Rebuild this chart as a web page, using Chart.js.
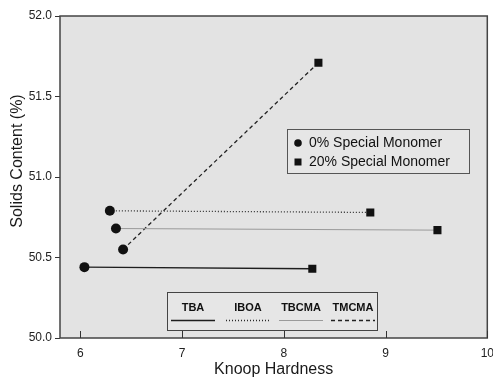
<!DOCTYPE html>
<html>
<head>
<meta charset="utf-8">
<script src="https://cdn.jsdelivr.net/npm/chart.js@4"></script>
<style>
  html, body { margin: 0; padding: 0; background: #ffffff; }
  #wrap { width: 493px; height: 378px; }
</style>
</head>
<body>
<div id="wrap"><canvas id="chart" width="493" height="378"></canvas></div>
<script>
Chart.defaults.font.family = '"Liberation Sans", Arial, sans-serif';

var monomers   = ['TBA', 'IBOA', 'TBCMA', 'TMCMA'];
var hardness0  = [6.04, 6.29, 6.35, 6.42];
var solids0    = [50.44, 50.79, 50.68, 50.55];
var hardness20 = [8.28, 8.85, 9.51, 8.34];
var solids20   = [50.43, 50.78, 50.67, 51.71];
var xTicks     = [6, 7, 8, 9, 10];
var groupNames = ['0% Special Monomer', '20% Special Monomer'];
var xTitle     = 'Knoop Hardness';
var yTitle     = 'Solids Content (%)';

var lineStyles = {
    TBA:   { color: '#1e1e1e', width: 1.3, dash: [] },
    IBOA:  { color: '#2a2a2a', width: 1.3, dash: [1, 2] },
    TBCMA: { color: '#9a9a9a', width: 1.0, dash: [] },
    TMCMA: { color: '#222222', width: 1.3, dash: [4, 3] }
};

var datasets = monomers.map(function (m, i) {
    var s = lineStyles[m];
    return {
        label: m,
        data: [
            { x: hardness0[i],  y: solids0[i] },
            { x: hardness20[i], y: solids20[i] }
        ],
        showLine: true,
        borderColor: s.color,
        borderWidth: s.width,
        borderDash: s.dash,
        pointStyle: ['circle', 'rect'],
        pointRadius: [5, 5.7],
        pointBackgroundColor: '#111111',
        pointBorderColor: '#111111',
        pointBorderWidth: 0,
        tension: 0
    };
});

// grey plot panel, frame, inward x ticks, titles and the two legend boxes
var panelPlugin = {
    id: 'panel',
    beforeDatasetsDraw: function (chart) {
        var ctx = chart.ctx, a = chart.chartArea;
        ctx.save();
        ctx.fillStyle = '#e3e3e3';
        ctx.fillRect(a.left, a.top, a.right - a.left, a.bottom - a.top);
        ctx.strokeStyle = '#444444';
        ctx.lineWidth = 1.5;
        ctx.strokeRect(a.left, a.top, a.right - a.left, a.bottom - a.top);
        var xs = chart.scales.x;
        ctx.lineWidth = 1;
        ctx.strokeStyle = '#333333';
        xTicks.forEach(function (t) {
            var px = Math.round(xs.getPixelForValue(t)) + 0.5;
            ctx.beginPath();
            ctx.moveTo(px, a.bottom);
            ctx.lineTo(px, a.bottom - 7);
            ctx.stroke();
        });

        // axis titles
        ctx.fillStyle = '#1a1a1a';
        ctx.font = '16px "Liberation Sans", Arial, sans-serif';
        ctx.textAlign = 'center';
        ctx.textBaseline = 'alphabetic';
        ctx.fillText(xTitle, (a.left + a.right) / 2, 374);
        ctx.save();
        ctx.translate(22, 161);
        ctx.rotate(-Math.PI / 2);
        ctx.fillText(yTitle, 0, 0);
        ctx.restore();
        ctx.restore();
    },
    afterDatasetsDraw: function (chart) {
        var ctx = chart.ctx;
        ctx.save();
        // marker legend
        ctx.fillStyle = '#e6e6e6';
        ctx.fillRect(287, 129, 182, 44);
        ctx.strokeStyle = '#555555';
        ctx.lineWidth = 1;
        ctx.strokeRect(287.5, 129.5, 182, 44);
        ctx.fillStyle = '#111111';
        ctx.beginPath();
        ctx.arc(298, 143, 3.8, 0, Math.PI * 2);
        ctx.fill();
        ctx.fillRect(294.5, 158.5, 7, 7);
        ctx.font = '14px "Liberation Sans", Arial, sans-serif';
        ctx.textBaseline = 'middle';
        ctx.textAlign = 'left';
        ctx.fillText(groupNames[0], 309, 143);
        ctx.fillText(groupNames[1], 309, 162);

        // line-style legend
        ctx.fillStyle = '#e6e6e6';
        ctx.fillRect(167, 292, 210, 38);
        ctx.strokeStyle = '#444444';
        ctx.strokeRect(167.5, 292.5, 210, 38);
        var cx = [193, 248, 301, 353];
        var half = 22;
        ctx.font = 'bold 11px "Liberation Sans Narrow", "Liberation Sans", Arial, sans-serif';
        ctx.textAlign = 'center';
        monomers.forEach(function (m, i) {
            var s = lineStyles[m];
            ctx.fillStyle = '#111111';
            ctx.fillText(m, cx[i], 308);
            ctx.strokeStyle = s.color;
            ctx.lineWidth = s.width;
            ctx.setLineDash(s.dash);
            ctx.beginPath();
            ctx.moveTo(cx[i] - half, 320.5);
            ctx.lineTo(cx[i] + half, 320.5);
            ctx.stroke();
        });
        ctx.setLineDash([]);
        ctx.restore();
    }
};

new Chart(document.getElementById('chart'), {
    type: 'scatter',
    data: { datasets: datasets },
    options: {
        responsive: false,
        animation: false,
        layout: { padding: { top: 16, right: 5, left: 0, bottom: 0 } },
        plugins: {
            legend:  { display: false },
            tooltip: { enabled: false }
        },
        scales: {
            x: {
                type: 'linear',
                min: 5.8,
                max: 10,
                afterBuildTicks: function (axis) {
                    axis.ticks = xTicks.map(function (v) { return { value: v }; });
                },
                afterFit: function (axis) {
                    axis.height = 40;
                    axis.paddingLeft = 0;
                    axis.paddingRight = 0;
                },
                grid: { display: false, drawTicks: false },
                border: { display: false },
                ticks: {
                    color: '#222222',
                    font: { size: 12 },
                    padding: 8,
                    maxRotation: 0
                }
            },
            y: {
                type: 'linear',
                min: 50,
                max: 52,
                afterFit: function (axis) {
                    axis.width = 60;
                    axis.paddingTop = 0;
                    axis.paddingBottom = 0;
                },
                grid: {
                    display: true,
                    drawOnChartArea: false,
                    drawTicks: true,
                    tickLength: 5,
                    color: '#333333'
                },
                border: { display: false },
                ticks: {
                    stepSize: 0.5,
                    color: '#222222',
                    font: { size: 12 },
                    padding: 3,
                    callback: function (v) { return v.toFixed(1); }
                }
            }
        }
    },
    plugins: [panelPlugin]
});
</script>
</body>
</html>
